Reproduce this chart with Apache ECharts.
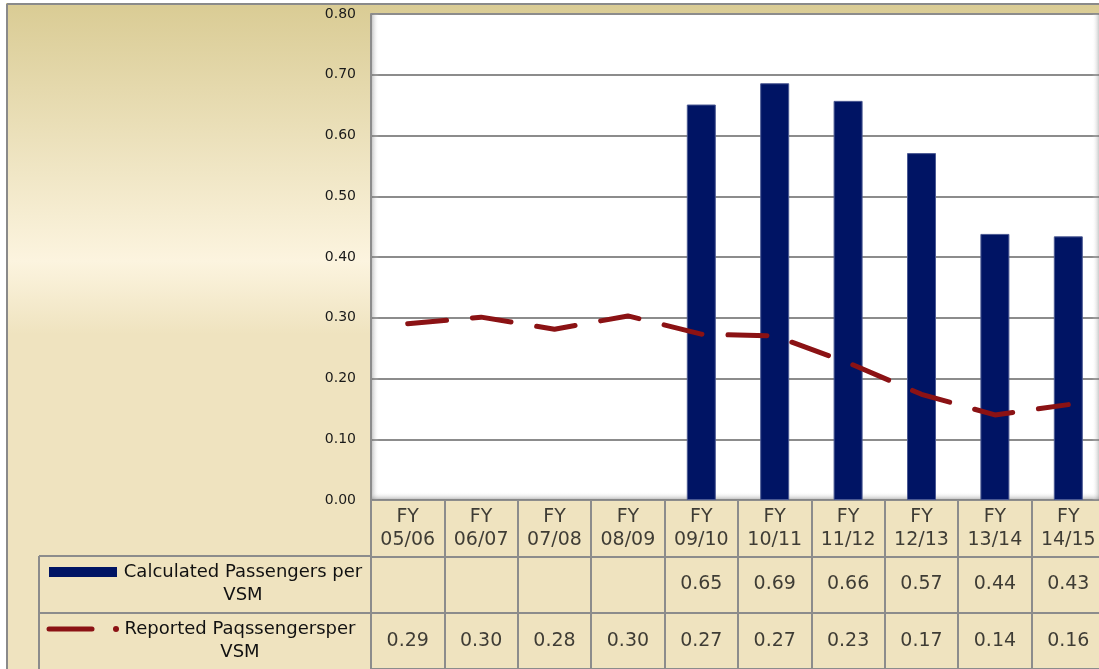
<!DOCTYPE html>
<html>
<head>
<meta charset="utf-8">
<script src="https://cdn.jsdelivr.net/npm/echarts@6/dist/echarts.min.js"></script>
<style>
  html, body { margin: 0; padding: 0; background: #fff; overflow: hidden; }
  /* the original chart is cut off at the right edge, so the canvas runs past the window */
  #chart { width: 1106px; height: 669px; }
</style>
</head>
<body>
<div id="chart"></div>
<script>
// fiscal years on the x axis
var years = ['05/06', '06/07', '07/08', '08/09', '09/10', '10/11', '11/12', '12/13', '13/14', '14/15'];
// bars: calculated passengers per VSM (no data before 09/10)
var calculated = [null, null, null, null, 0.651, 0.686, 0.657, 0.571, 0.438, 0.434];
// dashed line: reported passengers per VSM
var reported = [0.290, 0.301, 0.281, 0.303, 0.273, 0.270, 0.226, 0.174, 0.140, 0.157];
var rowNames = ['head', 'calc', 'rep'];

var FONT = 'DejaVu Sans';
var GRID_COLOR = '#8c8c8c';
var BAR_COLOR = '#001464';
var LINE_COLOR = '#8b1214';

var myChart = echarts.init(document.getElementById('chart'));

function each(arr, fn) { for (var i = 0; i < arr.length; i++) fn(i, arr[i]); }

// table cells, one scatter point per cell with its text as label
var cells = [];
each(years, function (i, y) {
    cells.push({value: [y, 'head'], label: {formatter: 'FY\n' + y}});
    if (calculated[i] != null) {
        cells.push({value: [y, 'calc'], label: {formatter: calculated[i].toFixed(2)}});
    }
    cells.push({value: [y, 'rep'], label: {formatter: reported[i].toFixed(2)}});
});

var background = new echarts.graphic.LinearGradient(0, 0, 0, 1, [
    {offset: 0, color: '#d9cb93'},
    {offset: 0.39, color: '#fcf4df'},
    {offset: 0.5, color: '#efe3bf'},
    {offset: 1, color: '#efe3bf'}
]);

var grid = [
    {left: 371, top: 14, right: 1, height: 486, show: true, backgroundColor: '#fff', borderWidth: 0},
    {left: 371, top: 500, right: 1, height: 170, show: false}
];

var xAxis = [
    {
        type: 'category', gridIndex: 0, data: years,
        axisLine: {show: false}, axisTick: {show: false}, axisLabel: {show: false}
    },
    {
        type: 'category', gridIndex: 1, data: years,
        axisLine: {show: false}, axisTick: {show: false}, axisLabel: {show: false},
        splitLine: {show: true, interval: 0, lineStyle: {color: GRID_COLOR, width: 2}}
    }
];

var yAxis = [
    {
        type: 'value', gridIndex: 0, min: 0, max: 0.8, interval: 0.1,
        axisLine: {show: true, lineStyle: {color: GRID_COLOR, width: 2}},
        axisTick: {show: false},
        axisLabel: {
            margin: 15, fontFamily: FONT, fontSize: 14, color: '#1a1a1a',
            formatter: function (v) { return v.toFixed(2); }
        },
        splitLine: {lineStyle: {color: GRID_COLOR, width: 2}}
    },
    {
        type: 'category', gridIndex: 1, data: rowNames, inverse: true,
        axisLine: {show: false}, axisTick: {show: false}, axisLabel: {show: false},
        splitLine: {show: true, interval: 0, lineStyle: {color: GRID_COLOR, width: 2}}
    }
];

var series = [
    {
        name: 'Calculated Passengers per VSM',
        type: 'bar', xAxisIndex: 0, yAxisIndex: 0,
        data: calculated, barWidth: 29,
        itemStyle: {color: BAR_COLOR, borderColor: '#4b5993', borderWidth: 1}
    },
    {
        name: 'Reported Paqssengersper VSM',
        type: 'line', xAxisIndex: 0, yAxisIndex: 0,
        data: reported, symbol: 'none', z: 3,
        lineStyle: {color: LINE_COLOR, width: 5, type: [39, 26], cap: 'round', join: 'round'}
    },
    {
        type: 'scatter', xAxisIndex: 1, yAxisIndex: 1,
        data: cells, symbolSize: 1, silent: true,
        itemStyle: {color: 'rgba(0,0,0,0)'},
        label: {
            show: true, position: 'inside', fontFamily: FONT, fontSize: 19,
            lineHeight: 23, color: '#111', align: 'center', verticalAlign: 'middle'
        }
    }
];

// plot-area shading, table frame for the legend column, outer frame
var graphic = [
    {type: 'rect', z: 1, shape: {x: 372, y: 14, width: 7, height: 486},
     style: {fill: new echarts.graphic.LinearGradient(0, 0, 1, 0, [
         {offset: 0, color: 'rgba(120,120,120,0.4)'}, {offset: 1, color: 'rgba(255,255,255,0)'}])}},
    {type: 'rect', z: 1, shape: {x: 372, y: 492, width: 734, height: 8},
     style: {fill: new echarts.graphic.LinearGradient(0, 0, 0, 1, [
         {offset: 0, color: 'rgba(255,255,255,0)'}, {offset: 1, color: 'rgba(120,120,120,0.55)'}])}},
    {type: 'rect', z: 1, shape: {x: 1092, y: 14, width: 7, height: 486},
     style: {fill: new echarts.graphic.LinearGradient(0, 0, 1, 0, [
         {offset: 0, color: 'rgba(255,255,255,0)'}, {offset: 1, color: 'rgba(140,140,140,0.45)'}])}},
    {type: 'line', z: 5, shape: {x1: 39, y1: 556, x2: 371, y2: 556}, style: {stroke: GRID_COLOR, lineWidth: 2}},
    {type: 'line', z: 5, shape: {x1: 39, y1: 613, x2: 371, y2: 613}, style: {stroke: GRID_COLOR, lineWidth: 2}},
    {type: 'line', z: 5, shape: {x1: 39, y1: 556, x2: 39, y2: 669}, style: {stroke: GRID_COLOR, lineWidth: 2}},
    {type: 'rect', z: 5, shape: {x: 49, y: 567, width: 68, height: 10}, style: {fill: BAR_COLOR}},
    {type: 'text', z: 5, x: 243, y: 584,
     style: {text: 'Calculated Passengers per\nVSM', fontFamily: FONT, fontSize: 18, lineHeight: 23,
             fill: '#111', align: 'center', verticalAlign: 'middle'}},
    {type: 'line', z: 5, shape: {x1: 49, y1: 629, x2: 92, y2: 629},
     style: {stroke: LINE_COLOR, lineWidth: 5, lineCap: 'round'}},
    {type: 'circle', z: 5, shape: {cx: 116, cy: 629, r: 3}, style: {fill: LINE_COLOR}},
    {type: 'text', z: 5, x: 240, y: 641,
     style: {text: 'Reported Paqssengersper\nVSM', fontFamily: FONT, fontSize: 18, lineHeight: 23,
             fill: '#111', align: 'center', verticalAlign: 'middle'}},
    {type: 'rect', z: 10, shape: {x: 0, y: 0, width: 6, height: 669}, style: {fill: '#fff'}},
    {type: 'rect', z: 10, shape: {x: 0, y: 0, width: 1106, height: 3}, style: {fill: '#fff'}},
    {type: 'line', z: 10, shape: {x1: 7, y1: 4, x2: 1106, y2: 4}, style: {stroke: '#8a8a8a', lineWidth: 2}},
    {type: 'line', z: 10, shape: {x1: 7, y1: 4, x2: 7, y2: 669}, style: {stroke: '#8a8a8a', lineWidth: 2}}
];

var option = {
    backgroundColor: background,
    animation: false,
    grid: grid,
    xAxis: xAxis,
    yAxis: yAxis,
    series: series,
    graphic: graphic
};

myChart.setOption(option);
</script>
</body>
</html>
